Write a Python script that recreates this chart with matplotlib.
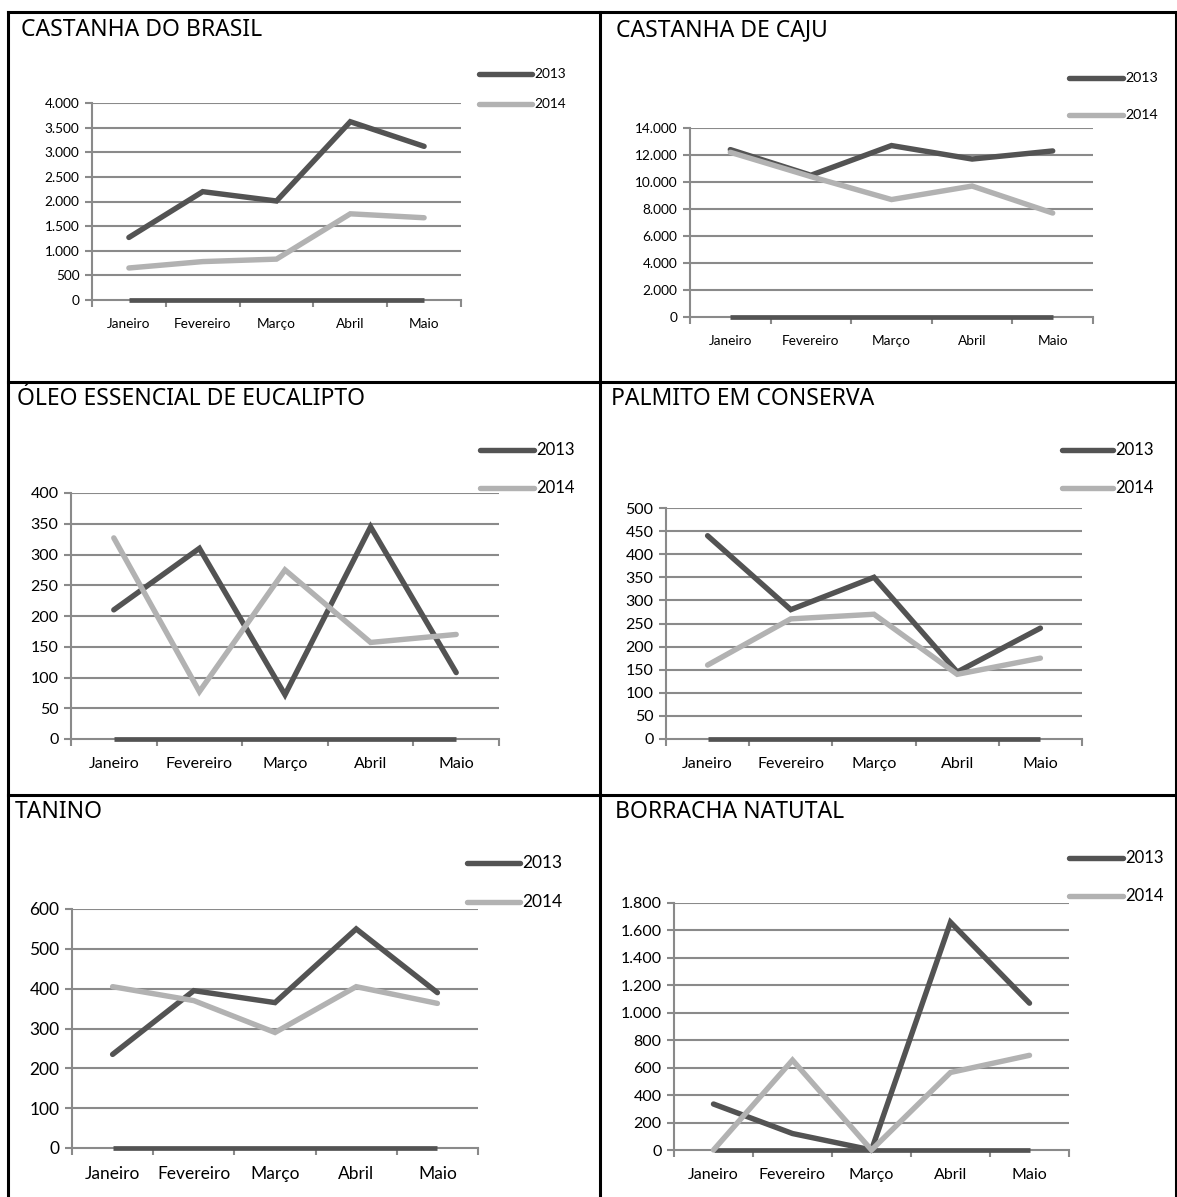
import matplotlib
matplotlib.use("Agg")
import matplotlib.pyplot as plt
from matplotlib.lines import Line2D
from matplotlib.ticker import FuncFormatter, FixedLocator

# ---- data -------------------------------------------------------------
meses = ["Janeiro", "Fevereiro", "Março", "Abril", "Maio"]
anos = ["2013", "2014"]

castanha_brasil_2013 = [1270, 2200, 2010, 3620, 3120]
castanha_brasil_2014 = [650, 780, 830, 1750, 1670]

castanha_caju_2013 = [12400, 10500, 12700, 11700, 12300]
castanha_caju_2014 = [12200, 10400, 8700, 9700, 7700]

oleo_eucalipto_2013 = [210, 310, 72, 345, 108]
oleo_eucalipto_2014 = [327, 77, 275, 157, 170]

palmito_2013 = [440, 280, 350, 145, 240]
palmito_2014 = [160, 260, 270, 140, 175]

tanino_2013 = [235, 395, 365, 550, 390]
tanino_2014 = [405, 370, 290, 405, 363]

borracha_2013 = [335, 120, 0, 1660, 1070]
borracha_2014 = [0, 655, 0, 565, 690]

serie_vazia = [0, 0, 0, 0, 0]

titulos = ["CASTANHA DO BRASIL", "CASTANHA DE CAJU",
           "ÓLEO ESSENCIAL DE EUCALIPTO", "PALMITO EM CONSERVA",
           "TANINO", "BORRACHA NATUTAL"]
series = [
    (castanha_brasil_2013, castanha_brasil_2014),
    (castanha_caju_2013, castanha_caju_2014),
    (oleo_eucalipto_2013, oleo_eucalipto_2014),
    (palmito_2013, palmito_2014),
    (tanino_2013, tanino_2014),
    (borracha_2013, borracha_2014),
]
escalas = [(4000, 500), (14000, 2000), (400, 50), (500, 50), (600, 100), (1800, 200)]

# ---- layout (pixels) --------------------------------------------------
W, H = 1177, 1197
DPI = 100

def fx(x):
    return x / W

def fy(y):
    return 1 - y / H

# left, right, y of max tick, y of zero, title (x, y), legend line x0, x1,
# legend rows y, tick font size, legend font size
paineis = [
    dict(l=92, r=461, t=103, b=300, title=(21, 30), lx=(479, 532), ly=(74, 104), fs=9.8, lfs=9.8),
    dict(l=690, r=1093, t=128, b=317, title=(616, 30), lx=(1069, 1123), ly=(78, 115), fs=9.8, lfs=10.2),
    dict(l=71, r=499, t=493, b=739, title=(17, 399), lx=(480, 534), ly=(450, 488), fs=11.5, lfs=12),
    dict(l=666, r=1082, t=508, b=739, title=(611, 399), lx=(1062, 1113), ly=(450, 488), fs=11.5, lfs=12),
    dict(l=72, r=478, t=909, b=1148, title=(15, 812), lx=(467, 520), ly=(863, 902), fs=12.5, lfs=12.5),
    dict(l=674, r=1069, t=903, b=1150, title=(615, 812), lx=(1069, 1123), ly=(858, 896), fs=11.5, lfs=12),
]

COR_2013 = "#535353"
COR_2014 = "#b2b2b2"
COR_GRADE = "#8a8a8a"
FONTE_EIXO = "Lato"
FONTE_TITULO = "Noto Sans"


def milhar(v, _pos):
    return f"{int(round(v)):,}".replace(",", ".")


fig = plt.figure(figsize=(W / DPI, H / DPI), dpi=DPI)
fig.patch.set_facecolor("white")

# table borders
bordas = dict(color="black", lw=2.2, solid_capstyle="projecting")
for y in (12, 382, 795):
    fig.add_artist(Line2D([fx(8), fx(1176)], [fy(y), fy(y)], **bordas))
for x in (8, 600, 1176):
    fig.add_artist(Line2D([fx(x), fx(x)], [fy(12), fy(1197)], **bordas))

x = list(range(len(meses)))
for titulo, (s13, s14), (ymax, passo), p in zip(titulos, series, escalas, paineis):
    ax = fig.add_axes([fx(p["l"]), fy(p["b"]), (p["r"] - p["l"]) / W, (p["b"] - p["t"]) / H])
    ax.set_xlim(-0.5, len(meses) - 0.5)
    ax.set_ylim(0, ymax)

    ticks_y = list(range(0, ymax + 1, passo))
    ax.yaxis.set_major_locator(FixedLocator(ticks_y))
    ax.yaxis.set_major_formatter(FuncFormatter(milhar))
    for v in ticks_y[1:]:
        ax.axhline(v, color=COR_GRADE, lw=1.5, zorder=1)

    for lado in ("top", "right"):
        ax.spines[lado].set_visible(False)
    for lado in ("left", "bottom"):
        ax.spines[lado].set_color(COR_GRADE)
        ax.spines[lado].set_linewidth(1.5)
        ax.spines[lado].set_zorder(1.5)

    ax.plot(x, serie_vazia, color=COR_2013, lw=3.4, solid_capstyle="butt", zorder=3, clip_on=False)
    ax.plot(x, s13, color=COR_2013, lw=3.9, solid_joinstyle="miter", solid_capstyle="round", zorder=4, clip_on=False)
    ax.plot(x, s14, color=COR_2014, lw=3.9, solid_joinstyle="miter", solid_capstyle="round", zorder=5, clip_on=False)

    ax.set_xticks(x)
    ax.set_xticklabels(meses, fontfamily=FONTE_EIXO, fontsize=p["fs"])
    ax.set_xticks([i - 0.5 for i in range(len(meses) + 1)], minor=True)
    ax.tick_params(axis="x", which="major", length=0, pad=13)
    ax.tick_params(axis="x", which="minor", length=5, width=1.5, color=COR_GRADE, direction="out")
    ax.tick_params(axis="y", length=5, width=1.5, color=COR_GRADE, direction="out", pad=4)
    for lbl in ax.get_yticklabels():
        lbl.set_fontfamily(FONTE_EIXO)
        lbl.set_fontsize(p["fs"])
    ax.set_facecolor("none")

    # title
    tx, ty = p["title"]
    fig.text(fx(tx), fy(ty), titulo, fontfamily=FONTE_TITULO, fontsize=16.5,
             ha="left", va="center", color="black")

    # legend
    x0, x1 = p["lx"]
    for ano, cor, yy in zip(anos, (COR_2013, COR_2014), p["ly"]):
        fig.add_artist(Line2D([fx(x0), fx(x1)], [fy(yy), fy(yy)], color=cor, lw=3.9,
                              solid_capstyle="round"))
        fig.text(fx(x1 + 2), fy(yy), ano, fontfamily=FONTE_EIXO, fontsize=p["lfs"],
                 ha="left", va="center", color="black")

fig.savefig("out.png", dpi=DPI, facecolor="white")
